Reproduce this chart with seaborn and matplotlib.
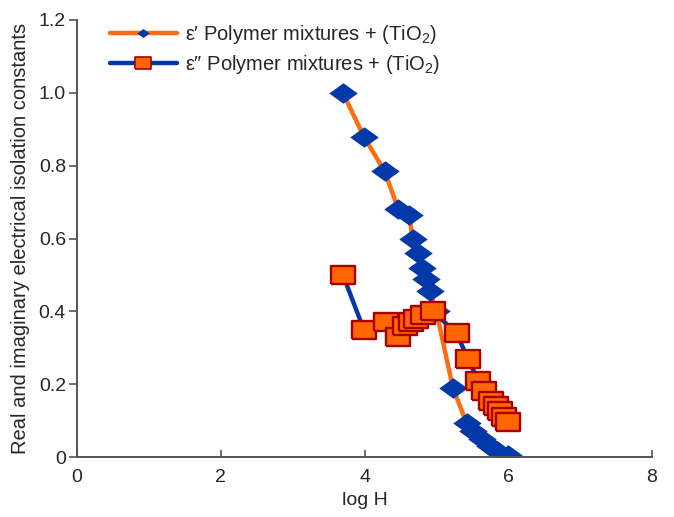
import matplotlib
matplotlib.use("Agg")
import matplotlib.pyplot as plt
from matplotlib.lines import Line2D
from matplotlib.ticker import FixedLocator, FixedFormatter
import seaborn as sns
import pandas as pd

# Real part (epsilon') of the polymer/TiO2 mixtures
real_logH = [3.70, 3.99, 4.28, 4.47, 4.62, 4.67, 4.74, 4.80, 4.85, 4.91, 5.00,
             5.23, 5.42, 5.51, 5.63, 5.74, 5.85, 5.99]
real_eps = [1.00, 0.88, 0.785, 0.68, 0.665, 0.60, 0.56, 0.52, 0.49, 0.455, 0.40,
            0.19, 0.093, 0.072, 0.05, 0.03, 0.016, 0.005]

# Imaginary part (epsilon'') of the polymer/TiO2 mixtures
imag_logH = [3.70, 3.99, 4.30, 4.46, 4.57, 4.65, 4.72, 4.81, 4.95, 5.28, 5.44,
             5.58, 5.66, 5.76, 5.83, 5.88, 5.94, 6.00]
imag_eps = [0.50, 0.35, 0.37, 0.33, 0.36, 0.37, 0.38, 0.39, 0.40, 0.34, 0.27,
            0.21, 0.18, 0.155, 0.14, 0.125, 0.11, 0.095]

x_ticks = [0, 2, 4, 6, 8]
x_tick_labels = ["0", "2", "4", "6", "8"]
y_ticks = [0, 0.2, 0.4, 0.6, 0.8, 1.0, 1.2]
y_tick_labels = ["0", "0.2", "0.4", "0.6", "0.8", "1.0", "1.2"]

label_real = "\u03b5\u2032 Polymer mixtures + (TiO$_2$)"
label_imag = "\u03b5\u2033 Polymer mixtures + (TiO$_2$)"

sns.set_style("ticks")
plt.rcParams["font.family"] = ["Liberation Sans", "DejaVu Sans"]
plt.rcParams["mathtext.fontset"] = "custom"
plt.rcParams["mathtext.rm"] = "Liberation Sans"
plt.rcParams["mathtext.it"] = "Liberation Sans:italic"

ORANGE = "#FF6A13"
BLUE = "#0238A8"
SQ_FILL = "#FF6600"
SQ_EDGE = "#A80000"
AXIS = "#555555"

diamond = [(-1, 0), (0, 0.72), (1, 0), (0, -0.72), (-1, 0)]
rect = [(-1, -0.76), (1, -0.76), (1, 0.76), (-1, 0.76), (-1, -0.76)]

df_real = pd.DataFrame({"logH": real_logH, "eps": real_eps})
df_imag = pd.DataFrame({"logH": imag_logH, "eps": imag_eps})

fig = plt.figure(figsize=(6.74, 5.17), dpi=100)
ax = fig.add_axes([77 / 674, 1 - 457 / 517, 575 / 674, 437 / 517])

sns.lineplot(data=df_real, x="logH", y="eps", ax=ax, sort=False, estimator=None,
             color=ORANGE, linewidth=3.2, marker=diamond, markersize=20.5,
             markerfacecolor=BLUE, markeredgewidth=0, zorder=2)
sns.lineplot(data=df_imag, x="logH", y="eps", ax=ax, sort=False, estimator=None,
             color=BLUE, linewidth=3.2, marker=rect, markersize=17.5,
             markerfacecolor=SQ_FILL, markeredgecolor=SQ_EDGE,
             markeredgewidth=1.7, zorder=3)

ax.set_xlim(0, 8)
ax.set_ylim(0, 1.2)
ax.xaxis.set_major_locator(FixedLocator(x_ticks))
ax.xaxis.set_major_formatter(FixedFormatter(x_tick_labels))
ax.yaxis.set_major_locator(FixedLocator(y_ticks))
ax.yaxis.set_major_formatter(FixedFormatter(y_tick_labels))

sns.despine(ax=ax)
for side in ("left", "bottom"):
    ax.spines[side].set_color(AXIS)
    ax.spines[side].set_linewidth(1.4)
ax.tick_params(axis="x", direction="in", length=5, width=1.2, color=AXIS,
               labelsize=14, pad=9)
ax.tick_params(axis="y", direction="out", length=6, width=1.2, color=AXIS,
               labelsize=14, pad=2)

ax.set_xlabel("log H", fontsize=14, labelpad=4)
ax.set_ylabel("Real and imaginary electrical isolation constants", fontsize=14.5,
              labelpad=6)

handles = [
    Line2D([], [], color=ORANGE, linewidth=3.2, marker=diamond, markersize=9,
           markerfacecolor=BLUE, markeredgewidth=0),
    Line2D([], [], color=BLUE, linewidth=3.2, marker=rect, markersize=11,
           markerfacecolor=SQ_FILL, markeredgecolor=SQ_EDGE, markeredgewidth=1.2),
]
ax.legend(handles, [label_real, label_imag], loc="upper left",
          bbox_to_anchor=(96 / 674, 1 - 9 / 517), bbox_transform=fig.transFigure,
          frameon=False, fontsize=14.5, handlelength=3.3, handletextpad=0.4,
          labelspacing=0.35, borderpad=0.2)

fig.savefig("out.png", dpi=100)
